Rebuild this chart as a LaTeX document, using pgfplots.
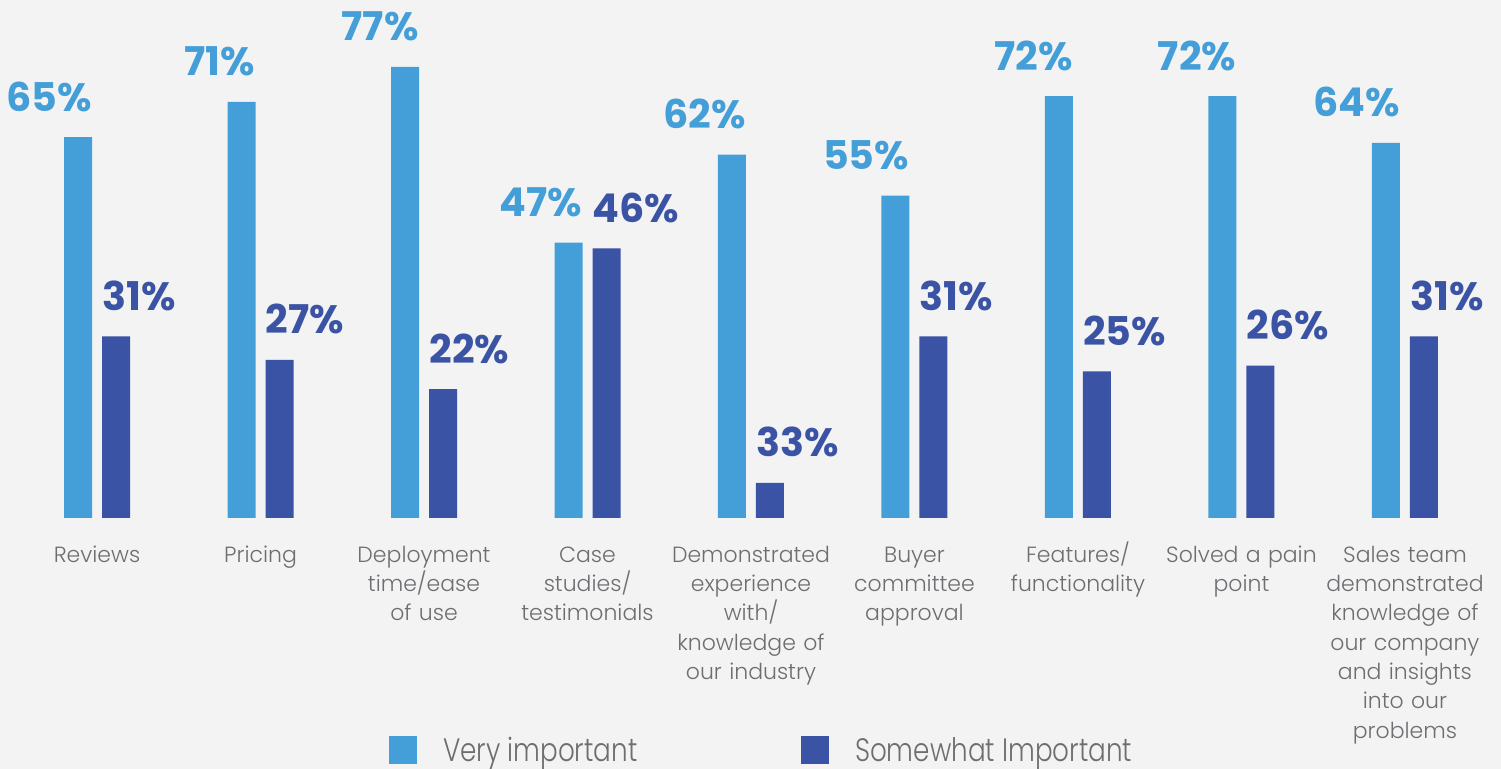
\documentclass[border=0pt]{standalone}
\usepackage{pgfplots}
\pgfplotsset{compat=1.18}
\usepackage{fontspec}
\setmainfont{Poppins}
\newfontfamily\lightfont{Poppins Light}
\definecolor{bgc}{HTML}{F3F3F3}
\definecolor{lightbar}{HTML}{449FD8}
\definecolor{darkbar}{HTML}{3A53A4}
\definecolor{txtgray}{HTML}{6D6E71}
\newcommand\numfont{\bfseries\fontsize{19.8}{22}\selectfont}
\newcommand\catfont{\lightfont\fontsize{11}{14.65}\selectfont}
\newcommand\legfont{\lightfont\fontsize{16.2}{20}\selectfont}
\begin{document}
\begin{tikzpicture}
\useasboundingbox (0,0) rectangle (750.5pt,384.5pt);
\fill[bgc] (0,0) rectangle (750.5pt,384.5pt);
\begin{axis}[
  at={(3.55pt,125.5pt)}, anchor=south west,
  scale only axis, width=743.9pt, height=234.4pt,
  xmin=-0.55, xmax=8.55, ymin=0, ymax=80,
  clip=false,
  axis line style={draw=none},
  major tick length=0pt,
  ytick=\empty,
  xtick={0,...,8},
  xticklabels={Reviews, Pricing, {Deployment\\time/ease\\of use}, {Case\\studies/\\testimonials}, {Demonstrated\\experience\\with/\\knowledge of\\our industry}, {Buyer\\committee\\approval}, {Features/\\functionality}, {Solved a pain\\point}, {Sales team\\demonstrated\\knowledge of\\our company\\and insights\\into our\\problems}},
  xticklabel style={align=center, text width=90pt, font=\catfont, text=txtgray, anchor=north, inner sep=0pt, yshift=-9pt,
    execute at begin node={\rule{0pt}{13pt}}},
  ybar, bar width=14pt,
  legend columns=2,
  legend image code/.code={\fill[#1] (0pt,-1.5pt) rectangle (14pt,12.5pt);},
  legend style={draw=none, fill=none, inner sep=0pt, outer sep=0pt,
    at={(axis description cs:0.2567,-0.5256)}, anchor=south west,
    cells={anchor=base west},
    nodes={inner sep=0pt, text=txtgray},
    /tikz/every odd column/.append style={column sep=13pt}},
]
\addplot[fill=lightbar, draw=none, bar shift=-9.5pt,
  point meta=explicit symbolic,
  nodes near coords={\pgfplotspointmeta\%},
  nodes near coords style={anchor=base east, inner sep=0pt, xshift=7pt, yshift=13pt, font=\numfont, text=lightbar}]
  table[meta=lab] {
x y lab
0 65 65
1 71 71
2 77 77
3 47 47
4 62 62
5 55 55
6 72 72
7 72 72
8 64 64
};
\addlegendentry{\makebox[179pt][l]{\legfont\scalebox{0.81}[1]{Very important}}}
\addplot[fill=darkbar, draw=none, bar shift=9.5pt,
  point meta=explicit symbolic,
  nodes near coords={\pgfplotspointmeta\%},
  nodes near coords style={anchor=base west, inner sep=0pt, xshift=-7pt, yshift=13pt, font=\numfont, text=darkbar}]
  table[meta=lab] {
x y lab
0 31 31
1 27 27
2 22 22
3 46 46
4 6 33
5 31 31
6 25 25
7 26 26
8 31 31
};
\addlegendentry{\legfont\scalebox{0.81}[1]{Somewhat Important}}
\end{axis}
\end{tikzpicture}
\end{document}
